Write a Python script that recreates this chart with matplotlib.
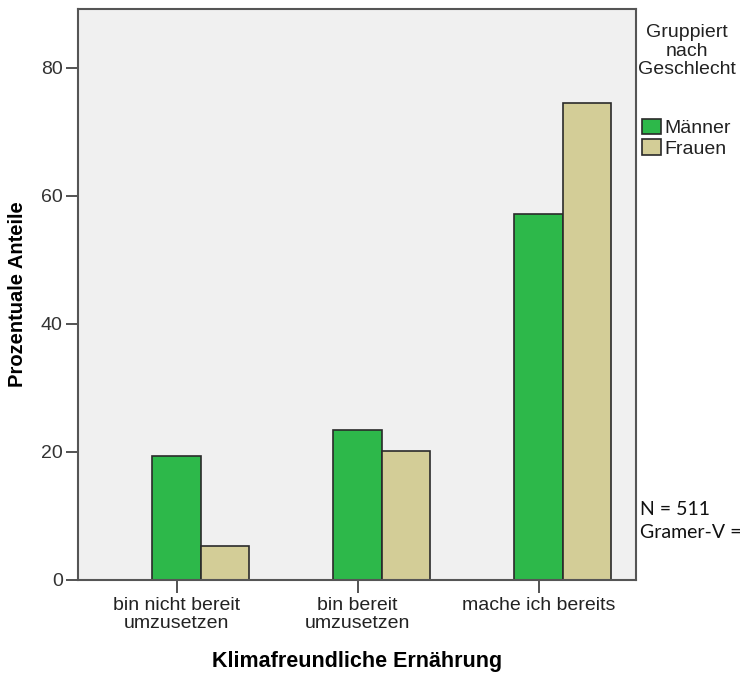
import numpy as np
import matplotlib
matplotlib.use("Agg")
import matplotlib.pyplot as plt

# Werte (Prozent)
kategorien = ["bin nicht bereit\numzusetzen", "bin bereit\numzusetzen", "mache ich bereits"]
maenner = [19.4, 23.5, 57.1]
frauen = [5.3, 20.2, 74.5]
gruppen = ["Männer", "Frauen"]
farben = ["#2db84a", "#d3cd97"]
yticks = [0, 20, 40, 60, 80]

plt.rcParams['font.family'] = ['Liberation Sans', 'DejaVu Sans']

fig = plt.figure(figsize=(7.48, 6.77), dpi=100)
ax = fig.add_axes([0.1043, 0.1433, 0.7460, 0.8434])
ax.set_facecolor("#f0f0f0")

x = np.arange(len(kategorien))
w = 0.267
b1 = ax.bar(x - w / 2, maenner, w, color=farben[0], edgecolor="#2a2a2a", linewidth=1.2, label=gruppen[0])
b2 = ax.bar(x + w / 2, frauen, w, color=farben[1], edgecolor="#2a2a2a", linewidth=1.2, label=gruppen[1])

ax.set_xlim(-0.678, 2.405)
ax.set_ylim(0, 89.2)
ax.set_yticks(yticks)
ax.set_xticks(x - w / 2)
ax.set_xticklabels(kategorien, fontsize=14, color="#222222", linespacing=1.1)
ax.tick_params(axis='y', labelsize=14, labelcolor="#333333", length=9, width=1.3, color="#444444", pad=2)
ax.tick_params(axis='x', length=9, width=1.3, color="#444444", pad=3)

for s in ax.spines.values():
    s.set_color("#555555")
    s.set_linewidth(1.5)

ax.set_ylabel("Prozentuale Anteile", fontsize=14.5, fontweight="bold", labelpad=10)
ax.set_xlabel("Klimafreundliche Ernährung", fontsize=15.5, fontweight="bold", labelpad=14)

leg = ax.legend(handles=[b1, b2], title="Gruppiert\nnach\nGeschlecht",
                loc="upper center", bbox_to_anchor=(0.918, 0.991), bbox_transform=fig.transFigure,
                frameon=False, fontsize=14, title_fontsize=14, handlelength=0.95, handleheight=0.85,
                handletextpad=0.2, labelspacing=0.1, alignment="center")
leg._legend_box.sep = 29
leg.get_title().set_multialignment("center")
leg.get_title().set_linespacing(1.15)
leg.get_title().set_color("#222222")
for t in leg.get_texts():
    t.set_color("#222222")

fig.text(0.856, 0.247, "N = 511", fontsize=14, family=["Lato", "DejaVu Sans"], va="center", color="#111111")
fig.text(0.856, 0.214, "Gramer-V =", fontsize=14, family=["Lato", "DejaVu Sans"], va="center", color="#111111")

fig.savefig("out.png", dpi=100)
